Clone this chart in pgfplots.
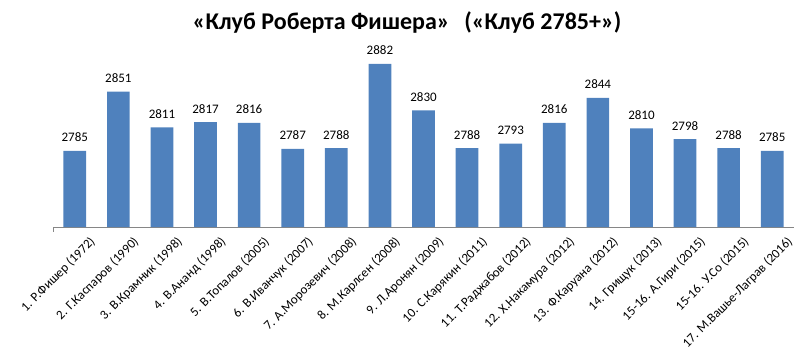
\documentclass[border=0pt]{standalone}
\usepackage{pgfplots}
\pgfplotsset{compat=1.18}
\usepackage{fontspec}
\setmainfont{Carlito}
\definecolor{barblue}{HTML}{4F81BD}
\definecolor{axgray}{HTML}{868686}
\begin{document}
\begin{tikzpicture}
\useasboundingbox (-53pt,-133pt) rectangle (747pt,227pt);
\begin{axis}[
  at={(0pt,0pt)}, anchor=south west,
  scale only axis, width=741pt, height=179.4pt,
  ymin=2700, ymax=2900,
  xmin=-0.5, xmax=16.5,
  axis x line*=bottom, axis y line=none,
  axis line style={axgray, line width=0.8pt, -},
  ybar, bar width=22.7pt,
  xtick=data, major tick length=0pt,
  xticklabels={{1. Р.Фишер (1972)},{2. Г.Каспаров (1990)},{3. В.Крамник (1998)},{4. В.Ананд (1998)},{5. В.Топалов (2005)},{6. В.Иванчук (2007)},{7. А.Морозевич (2008)},{8. М.Карлсен (2008)},{9. Л.Аронян (2009)},{10. С.Карякин (2011)},{11. Т.Раджабов (2012)},{12. Х.Накамура (2012)},{13. Ф.Каруана (2012)},{14. Грищук (2013)},{15-16. А.Гири (2015)},{15-16. У.Со (2015)},{17. М.Вашье-Лаграв (2016)}},
  xticklabel style={rotate=45, anchor=north east, font=\fontsize{13}{15}\selectfont, inner sep=0pt, xshift=4pt, yshift=-16pt},
  nodes near coords,
  nodes near coords style={font=\fontsize{13}{15}\selectfont, inner sep=0pt, anchor=south, yshift=8.7pt},
  /pgf/number format/1000 sep={},
  /pgf/number format/assume math mode=true,
  clip=false,
]
\addplot[fill=barblue, draw=none] coordinates {
(0,2785) (1,2851) (2,2811) (3,2817) (4,2816) (5,2787) (6,2788) (7,2882) (8,2830)
(9,2788) (10,2793) (11,2816) (12,2844) (13,2810) (14,2798) (15,2788) (16,2785)};
\draw[axgray, line width=0.8pt] (axis cs:-0.5,2700) -- ++(0pt,-5pt);
\end{axis}
\node[font=\fontsize{24}{28}\selectfont\bfseries] at (354pt,205pt) {«Клуб Роберта Фишера»\hspace{0.6em}(«Клуб 2785+»)};
\end{tikzpicture}
\end{document}
